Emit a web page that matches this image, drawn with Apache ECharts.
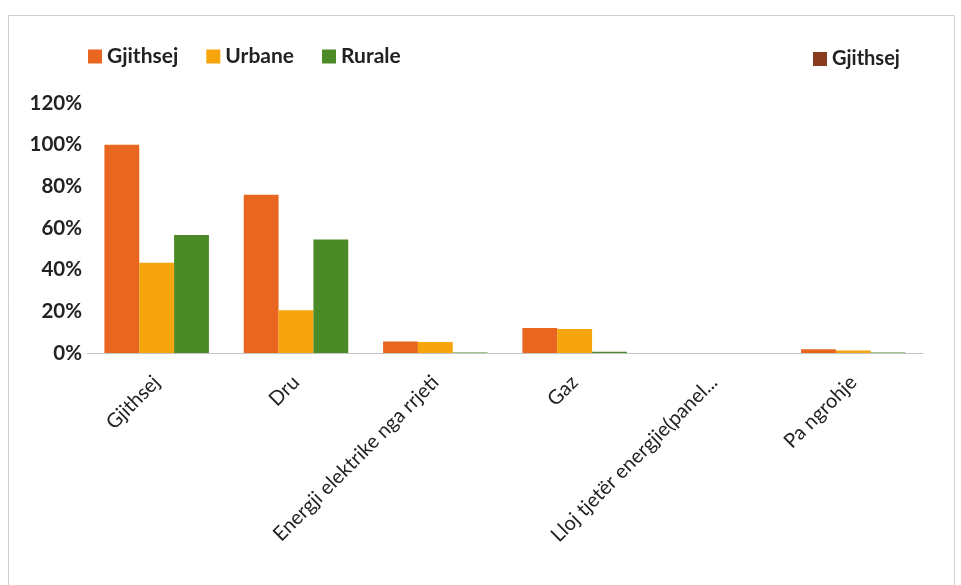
<!DOCTYPE html>
<html>
<head>
<meta charset="utf-8">
<script src="https://cdn.jsdelivr.net/npm/echarts@6/dist/echarts.min.js"></script>
<style>
html,body{margin:0;padding:0;background:#fff;}
#c{width:961px;height:585px;}
</style>
</head>
<body>
<div id="c"></div>
<script>
const categories = ['Gjithsej', 'Dru', 'Energji elektrike nga rrjeti', 'Gaz', 'Lloj tjetër energjie(panel...', 'Pa ngrohje'];
const gjithsej = [100, 76, 5.5, 12, 0, 1.8];
const urbane = [43.3, 20.5, 5.3, 11.5, 0, 1.2];
const rurale = [56.7, 54.5, 0.3, 0.6, 0, 0.2];
const yTicks = [0, 20, 40, 60, 80, 100, 120];

const font = 'Lato, "Open Sans", sans-serif';
const chart = echarts.init(document.getElementById('c'), null, {renderer: 'canvas'});
chart.setOption({
  animation: false,
  backgroundColor: '#fff',
  graphic: [{
    type: 'rect',
    shape: {x: 8.5, y: 15.5, width: 946, height: 580},
    style: {fill: 'none', stroke: '#cfcfcf', lineWidth: 1}
  }],
  legend: [{
    data: ['Gjithsej', 'Urbane', 'Rurale'],
    left: 83, top: 41,
    icon: 'rect', itemWidth: 14, itemHeight: 14, itemGap: 28,
    textStyle: {fontFamily: font, fontSize: 21, fontWeight: 'bold', color: '#222'}
  }, {
    data: ['Gjithsej\u200b'],
    left: 808, top: 44,
    icon: 'rect', itemWidth: 14, itemHeight: 14,
    formatter: function (n) { return n.replace('\u200b', ''); },
    textStyle: {fontFamily: font, fontSize: 20, fontWeight: 'bold', color: '#222'}
  }],
  grid: {left: 87, right: 38, top: 103, bottom: 232, containLabel: false},
  xAxis: {
    type: 'category',
    data: categories,
    axisLine: {show: true, lineStyle: {color: '#c4c4c4', width: 1}},
    axisTick: {show: false},
    axisLabel: {rotate: 45, interval: 0, margin: 26, fontFamily: font, fontSize: 20, color: '#222'}
  },
  yAxis: {
    type: 'value', min: 0, max: 120, interval: 20,
    axisLine: {show: false}, axisTick: {show: false}, splitLine: {show: false},
    axisLabel: {formatter: function (v) { return yTicks.indexOf(v) >= 0 ? v + '%' : ''; }, margin: 5,
      fontFamily: font, fontSize: 20.5, fontWeight: 'bold', color: '#222'}
  },
  series: [{
    name: 'Gjithsej', type: 'bar', data: gjithsej, barGap: '0%', barCategoryGap: '25%',
    itemStyle: {color: '#E8661F'}
  }, {
    name: 'Urbane', type: 'bar', data: urbane,
    itemStyle: {color: '#F6A50C'}
  }, {
    name: 'Rurale', type: 'bar', data: rurale,
    itemStyle: {color: '#4C8A27'}
  }, {
    name: 'Gjithsej\u200b', type: 'line', data: [],
    itemStyle: {color: '#8A3A1E'}, lineStyle: {color: '#8A3A1E'}
  }]
});
</script>
</body>
</html>
